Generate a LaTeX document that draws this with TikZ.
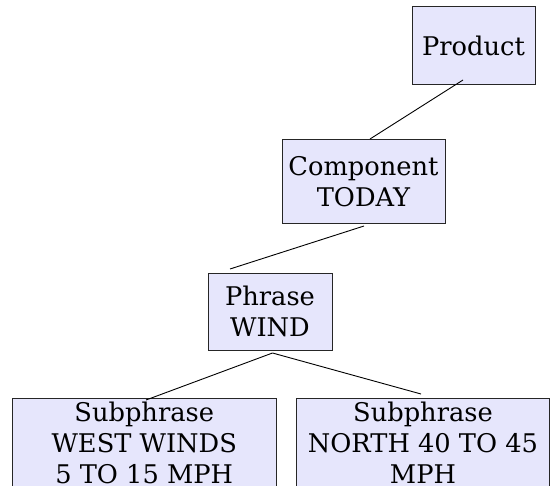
\documentclass[tikz,border=0pt]{standalone}
\usepackage{fontspec}
\setmainfont{DejaVu Serif}
\definecolor{boxfill}{RGB}{230,230,252}
\begin{document}
\begin{tikzpicture}[x=1pt,y=-1pt,
  treebox/.style={draw=black!85, line width=1pt, fill=boxfill, inner sep=0pt, outer sep=0pt,
    align=center, font=\fontsize{25.7}{31}\selectfont},
  link/.style={draw=black, line width=0.9pt}]
\useasboundingbox (0,0) rectangle (551,486);
\clip (0,0) rectangle (551,486);
\node[treebox, minimum width=123pt, minimum height=78pt] (prod) at (473.5,46) {Product};
\node[treebox, minimum width=163pt, minimum height=84pt] (comp) at (363.5,182) {Component\\TODAY};
\node[treebox, minimum width=124pt, minimum height=77pt] (phr) at (270,311.5) {Phrase\\WIND};
\node[treebox, minimum width=263.5pt, minimum height=90pt] (subA) at (144.25,443) {Subphrase\\WEST WINDS\\5 TO 15 MPH};
\node[treebox, minimum width=253pt, minimum height=90pt] (subB) at (423,443) {Subphrase\\NORTH 40 TO 45\\MPH};
\draw[link] ([xshift=-10.5pt,yshift=5pt]prod.south) -- ([xshift=6.5pt,yshift=1pt]comp.north);
\draw[link] ([xshift=0.5pt,yshift=-2pt]comp.south) -- ([xshift=-40pt,yshift=4pt]phr.north);
\draw[link] ([xshift=2.5pt,yshift=-3pt]phr.south) -- ([xshift=1.75pt,yshift=-2pt]subA.north);
\draw[link] ([xshift=2.5pt,yshift=-3pt]phr.south) -- ([xshift=-2pt,yshift=4pt]subB.north);
\end{tikzpicture}
\end{document}
